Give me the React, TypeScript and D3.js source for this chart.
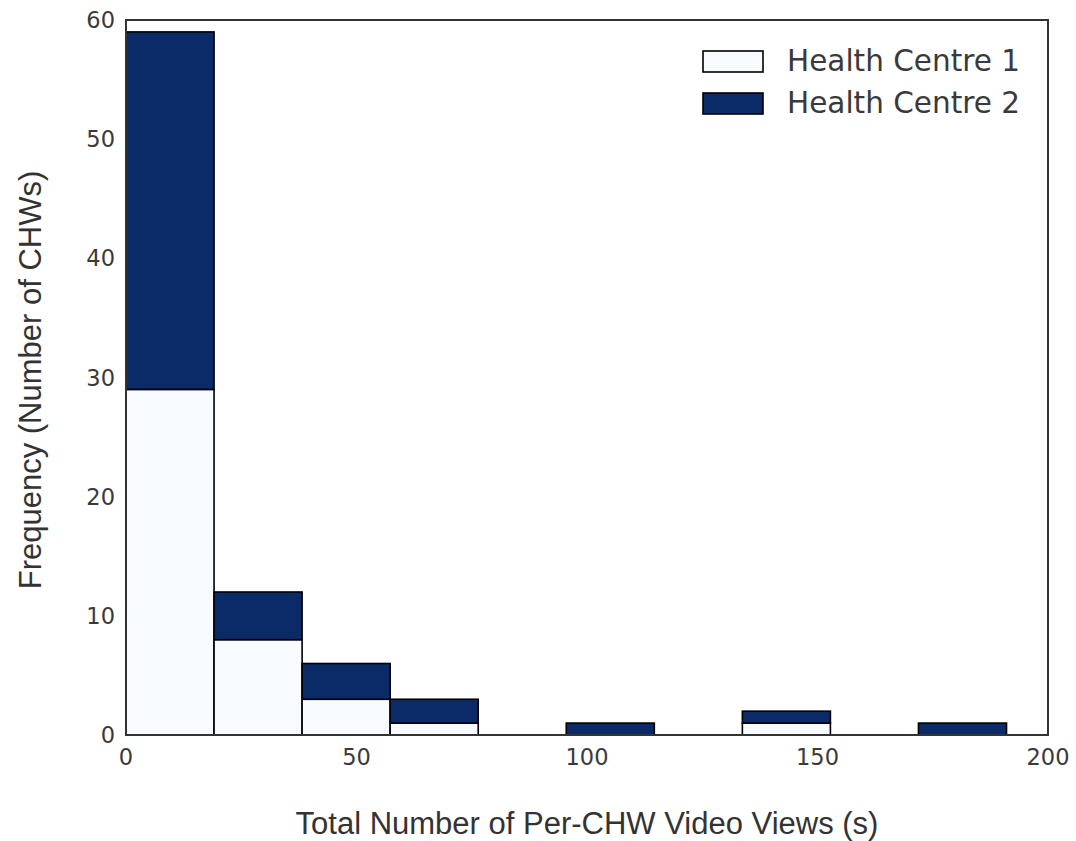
import React from "react";
import * as d3 from "d3";

const binEdges = [0, 19.1, 38.2, 57.3, 76.4, 95.5, 114.6, 133.7, 152.8, 171.9, 191];
const hc1Counts = [29, 8, 3, 1, 0, 0, 0, 1, 0, 0];
const hc2Counts = [30, 4, 3, 2, 0, 1, 0, 1, 0, 1];
const xTicks = [0, 50, 100, 150, 200];
const yTicks = [0, 10, 20, 30, 40, 50, 60];
const seriesNames = ["Health Centre 1", "Health Centre 2"];
const seriesColors = ["#f7fbff", "#0b2a68"];

const W = 1076, H = 841;
const M = { left: 126, right: 1048, top: 20, bottom: 735 };

export default function App() {
  const x = d3.scaleLinear().domain([0, 200]).range([M.left, M.right]);
  const y = d3.scaleLinear().domain([0, 60]).range([M.bottom, M.top]);
  const bins = hc1Counts.map((c1, i) => ({ x0: binEdges[i], x1: binEdges[i + 1], c1, c2: hc2Counts[i] }));
  const tickColor = "#3a3a3a";
  return (
    <svg width={W} height={H} style={{ position: "absolute", left: 0, top: 0, background: "#fff" }}>
      {bins.map((b, i) => (
        <g key={i}>
          {b.c1 > 0 && (
            <rect x={x(b.x0)} y={y(b.c1)} width={x(b.x1) - x(b.x0)} height={y(0) - y(b.c1)}
              fill={seriesColors[0]} stroke="#000" strokeWidth={1.6} />
          )}
          {b.c2 > 0 && (
            <rect x={x(b.x0)} y={y(b.c1 + b.c2)} width={x(b.x1) - x(b.x0)} height={y(b.c1) - y(b.c1 + b.c2)}
              fill={seriesColors[1]} stroke="#000" strokeWidth={1.6} />
          )}
        </g>
      ))}
      <rect x={M.left} y={M.top} width={M.right - M.left} height={M.bottom - M.top}
        fill="none" stroke="#333" strokeWidth={2} />
      {xTicks.map(t => (
        <text key={t} x={x(t)} y={M.bottom + 30} textAnchor="middle" fontFamily="DejaVu Sans" fontSize={22.5} fill={tickColor}>{t}</text>
      ))}
      {yTicks.map(t => (
        <text key={t} x={M.left - 11} y={y(t) + 8} textAnchor="end" fontFamily="DejaVu Sans" fontSize={22.5} fill={tickColor}>{t}</text>
      ))}
      <text x={(M.left + M.right) / 2} y={834} textAnchor="middle" fontFamily="Liberation Sans" fontSize={31} fill="#333">Total Number of Per-CHW Video Views (s)</text>
      <text transform={`translate(41,380) rotate(-90)`} textAnchor="middle" fontFamily="Liberation Sans" fontSize={31} fill="#333">Frequency (Number of CHWs)</text>
      {seriesNames.map((n, i) => (
        <g key={n} transform={`translate(703,${51 + i * 42})`}>
          <rect x={0} y={0} width={60} height={21} fill={seriesColors[i]} stroke="#000" strokeWidth={1.6} />
          <text x={84} y={20} fontFamily="DejaVu Sans" fontSize={29.5} fill={tickColor}>{n}</text>
        </g>
      ))}
    </svg>
  );
}
